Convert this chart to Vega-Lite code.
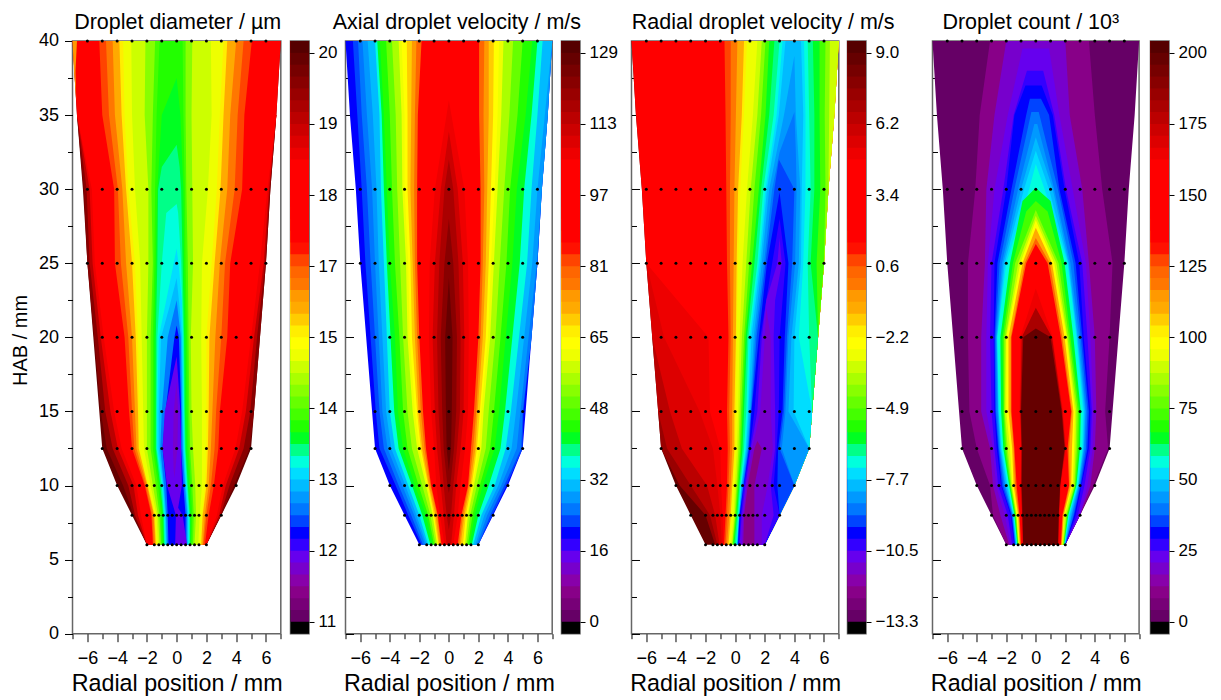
{"$schema":"https://vega.github.io/schema/vega-lite/v6.json","bounds":"flush","spacing":0,"padding":{"left":9.5,"top":11,"right":0,"bottom":0},"background":"white",
"resolve":{"scale":{"color":"shared"}},
"config":{"font":"Liberation Sans","view":{"stroke":"#666666","strokeWidth":1.5},"axis":{"grid":false,"domain":false,"tickColor":"#000000","labelColor":"#000000","titleColor":"#000000","labelFontSize":18,"titleFontSize":23.3,"titleFontWeight":"normal","labelFont":"Liberation Sans","titleFont":"Liberation Sans"},"title":{"fontSize":21.5,"fontWeight":"normal","font":"Liberation Sans","color":"#000000"}},
"datasets":{
"levels":[{"l":0,"lo":0},{"l":1,"lo":1},{"l":2,"lo":2},{"l":3,"lo":3},{"l":4,"lo":4},{"l":5,"lo":5},{"l":6,"lo":6},{"l":7,"lo":7},{"l":8,"lo":8},{"l":9,"lo":9},{"l":10,"lo":10},{"l":11,"lo":11},{"l":12,"lo":12},{"l":13,"lo":13},{"l":14,"lo":14},{"l":15,"lo":15},{"l":16,"lo":16},{"l":17,"lo":17},{"l":18,"lo":18},{"l":19,"lo":19},{"l":20,"lo":20},{"l":21,"lo":21},{"l":22,"lo":22},{"l":23,"lo":23},{"l":24,"lo":24},{"l":25,"lo":25},{"l":26,"lo":26},{"l":27,"lo":27},{"l":28,"lo":28},{"l":29,"lo":29},{"l":30,"lo":30},{"l":31,"lo":31},{"l":32,"lo":32},{"l":33,"lo":33},{"l":34,"lo":34},{"l":35,"lo":35},{"l":36,"lo":36},{"l":37,"lo":37},{"l":38,"lo":38},{"l":39,"lo":39},{"l":40,"lo":40},{"l":41,"lo":41},{"l":42,"lo":42},{"l":43,"lo":43},{"l":44,"lo":44},{"l":45,"lo":45},{"l":46,"lo":46},{"l":47,"lo":47},{"l":48,"lo":48},{"l":49,"lo":49}],
"dots":[{"a":-2,"y":6},{"a":-1.5,"y":6},{"a":-1.2,"y":6},{"a":-0.9,"y":6},{"a":-0.6,"y":6},{"a":-0.3,"y":6},{"a":0,"y":6},{"a":0.3,"y":6},{"a":0.6,"y":6},{"a":0.9,"y":6},{"a":1.2,"y":6},{"a":1.5,"y":6},{"a":2,"y":6},
{"a":-3,"y":8},{"a":-2,"y":8},{"a":-1.5,"y":8},{"a":-1.2,"y":8},{"a":-0.9,"y":8},{"a":-0.6,"y":8},{"a":-0.3,"y":8},{"a":0,"y":8},{"a":0.3,"y":8},{"a":0.6,"y":8},{"a":0.9,"y":8},{"a":1.2,"y":8},{"a":1.5,"y":8},{"a":2,"y":8},{"a":3,"y":8},
{"a":-4,"y":10},{"a":-3,"y":10},{"a":-2.5,"y":10},{"a":-2,"y":10},{"a":-1.5,"y":10},{"a":-1,"y":10},{"a":-0.5,"y":10},{"a":0,"y":10},{"a":0.5,"y":10},{"a":1,"y":10},{"a":1.5,"y":10},{"a":2,"y":10},{"a":2.5,"y":10},{"a":3,"y":10},{"a":4,"y":10},
{"a":-5,"y":12.5},{"a":-4,"y":12.5},{"a":-3,"y":12.5},{"a":-2,"y":12.5},{"a":-1,"y":12.5},{"a":0,"y":12.5},{"a":1,"y":12.5},{"a":2,"y":12.5},{"a":3,"y":12.5},{"a":4,"y":12.5},{"a":5,"y":12.5},
{"a":-5,"y":15},{"a":-4,"y":15},{"a":-3,"y":15},{"a":-2,"y":15},{"a":-1,"y":15},{"a":0,"y":15},{"a":1,"y":15},{"a":2,"y":15},{"a":3,"y":15},{"a":4,"y":15},{"a":5,"y":15},
{"a":-5,"y":20},{"a":-4,"y":20},{"a":-3,"y":20},{"a":-2,"y":20},{"a":-1,"y":20},{"a":0,"y":20},{"a":1,"y":20},{"a":2,"y":20},{"a":3,"y":20},{"a":4,"y":20},{"a":5,"y":20},
{"a":-6,"y":25},{"a":-5,"y":25},{"a":-4,"y":25},{"a":-3,"y":25},{"a":-2,"y":25},{"a":-1,"y":25},{"a":0,"y":25},{"a":1,"y":25},{"a":2,"y":25},{"a":3,"y":25},{"a":4,"y":25},{"a":5,"y":25},{"a":6,"y":25},
{"a":-6,"y":30},{"a":-5,"y":30},{"a":-4,"y":30},{"a":-3,"y":30},{"a":-2,"y":30},{"a":-1,"y":30},{"a":0,"y":30},{"a":1,"y":30},{"a":2,"y":30},{"a":3,"y":30},{"a":4,"y":30},{"a":5,"y":30},{"a":6,"y":30},
{"a":-6,"y":40},{"a":-5,"y":40},{"a":-4,"y":40},{"a":-3,"y":40},{"a":-2,"y":40},{"a":-1,"y":40},{"a":0,"y":40},{"a":1,"y":40},{"a":2,"y":40},{"a":3,"y":40},{"a":4,"y":40},{"a":5,"y":40},{"a":6,"y":40}],
"p1":[
{"l":48,"y":40,"a":-7,"b":7},{"l":48,"y":35,"a":-6.7,"b":6.7},{"l":48,"y":30,"a":-6.3,"b":6.3},{"l":48,"y":25,"a":-6,"b":6},{"l":48,"y":20,"a":-5.6,"b":5.6},{"l":48,"y":15,"a":-5.2,"b":5.2},{"l":48,"y":12.5,"a":-5,"b":5},{"l":48,"y":10,"a":-4,"b":4},{"l":48,"y":8,"a":-3,"b":3},{"l":48,"y":6,"a":-2,"b":2},
{"l":46,"y":35,"a":-6.7,"b":6.7},{"l":46,"y":30,"a":-6.25,"b":6.3},{"l":46,"y":25,"a":-6,"b":6},{"l":46,"y":20,"a":-5.55,"b":5.6},{"l":46,"y":15,"a":-5.1,"b":5.2},{"l":46,"y":12.5,"a":-4.7,"b":4.9},{"l":46,"y":10,"a":-3.6,"b":3.85},{"l":46,"y":8,"a":-2.9,"b":3},{"l":46,"y":6,"a":-2,"b":2},
{"l":43,"y":35,"a":-6.7,"b":6.7},{"l":43,"y":30,"a":-6.05,"b":6.25},{"l":43,"y":25,"a":-5.85,"b":5.95},{"l":43,"y":20,"a":-5.3,"b":5.4},{"l":43,"y":15,"a":-4.8,"b":4.95},{"l":43,"y":12.5,"a":-4.3,"b":4.5},{"l":43,"y":10,"a":-3.25,"b":3.55},{"l":43,"y":8,"a":-2.8,"b":2.95},{"l":43,"y":6,"a":-2,"b":2},
{"l":40,"y":35,"a":-6.7,"b":6.7},{"l":40,"y":30,"a":-5.85,"b":6.2},{"l":40,"y":25,"a":-5.65,"b":5.85},{"l":40,"y":20,"a":-5.1,"b":5.2},{"l":40,"y":15,"a":-4.45,"b":4.65},{"l":40,"y":12.5,"a":-3.95,"b":4.2},{"l":40,"y":10,"a":-2.9,"b":3.3},{"l":40,"y":8,"a":-2.6,"b":2.85},{"l":40,"y":6,"a":-2,"b":2},
{"l":36,"y":40,"a":-7,"b":7},{"l":36,"y":35,"a":-6.7,"b":6.7},{"l":36,"y":30,"a":-5.7,"b":6.1},{"l":36,"y":25,"a":-5.5,"b":5.6},{"l":36,"y":20,"a":-4.9,"b":5},{"l":36,"y":15,"a":-4.2,"b":4.4},{"l":36,"y":12.5,"a":-3.7,"b":3.95},{"l":36,"y":10,"a":-2.7,"b":3.1},{"l":36,"y":8,"a":-2.4,"b":2.7},{"l":36,"y":6,"a":-2,"b":2},
{"l":31,"y":40,"a":-5.2,"b":5.05},{"l":31,"y":35,"a":-5,"b":4.55},{"l":31,"y":30,"a":-4.2,"b":4.4},{"l":31,"y":25,"a":-4.15,"b":3.6},{"l":31,"y":20,"a":-3.5,"b":3.4},{"l":31,"y":15,"a":-3.2,"b":2.9},{"l":31,"y":12.5,"a":-3,"b":2.8},{"l":31,"y":10,"a":-2.15,"b":2.5},{"l":31,"y":8,"a":-1.7,"b":2.15},{"l":31,"y":6,"a":-1.6,"b":1.9},
{"l":29,"y":40,"a":-4.75,"b":4.5},{"l":29,"y":35,"a":-4.55,"b":4.1},{"l":29,"y":30,"a":-3.95,"b":3.9},{"l":29,"y":25,"a":-3.75,"b":3.25},{"l":29,"y":20,"a":-3.25,"b":3},{"l":29,"y":15,"a":-3,"b":2.65},{"l":29,"y":12.5,"a":-2.85,"b":2.55},{"l":29,"y":10,"a":-2.1,"b":2.3},{"l":29,"y":8,"a":-1.65,"b":2},{"l":29,"y":6,"a":-1.55,"b":1.8},
{"l":27,"y":40,"a":-4.3,"b":4},{"l":27,"y":35,"a":-4.15,"b":3.6},{"l":27,"y":30,"a":-3.65,"b":3.4},{"l":27,"y":25,"a":-3.4,"b":2.9},{"l":27,"y":20,"a":-3,"b":2.6},{"l":27,"y":15,"a":-2.8,"b":2.4},{"l":27,"y":12.5,"a":-2.7,"b":2.3},{"l":27,"y":10,"a":-2,"b":2.15},{"l":27,"y":8,"a":-1.55,"b":1.9},{"l":27,"y":6,"a":-1.45,"b":1.75},
{"l":25,"y":40,"a":-3.85,"b":3.4},{"l":25,"y":35,"a":-3.7,"b":3.15},{"l":25,"y":30,"a":-3.4,"b":2.95},{"l":25,"y":25,"a":-3,"b":2.55},{"l":25,"y":20,"a":-2.75,"b":2.2},{"l":25,"y":15,"a":-2.6,"b":2.15},{"l":25,"y":12.5,"a":-2.55,"b":2.1},{"l":25,"y":10,"a":-1.95,"b":2},{"l":25,"y":8,"a":-1.5,"b":1.75},{"l":25,"y":6,"a":-1.4,"b":1.65},
{"l":23,"y":40,"a":-3.6,"b":3.15},{"l":23,"y":35,"a":-3.5,"b":2.9},{"l":23,"y":30,"a":-3.25,"b":2.7},{"l":23,"y":25,"a":-2.8,"b":2.35},{"l":23,"y":20,"a":-2.6,"b":2},{"l":23,"y":15,"a":-2.5,"b":2},{"l":23,"y":12.5,"a":-2.5,"b":2},{"l":23,"y":10,"a":-1.9,"b":1.9},{"l":23,"y":8,"a":-1.45,"b":1.7},{"l":23,"y":6,"a":-1.35,"b":1.6},
{"l":22,"y":40,"a":-3.05,"b":2.3},{"l":22,"y":35,"a":-3,"b":2.35},{"l":22,"y":30,"a":-2.8,"b":2.1},{"l":22,"y":25,"a":-2.45,"b":1.7},{"l":22,"y":20,"a":-2.35,"b":1.65},{"l":22,"y":15,"a":-2.25,"b":1.7},{"l":22,"y":12.5,"a":-2.2,"b":1.7},{"l":22,"y":10,"a":-1.75,"b":1.7},{"l":22,"y":8,"a":-1.35,"b":1.55},{"l":22,"y":6,"a":-1.25,"b":1.45},
{"l":20,"y":40,"a":-2.1,"b":1.05},{"l":20,"y":35,"a":-2.15,"b":1},{"l":20,"y":30,"a":-1.9,"b":1.05},{"l":20,"y":25,"a":-1.9,"b":1.1},{"l":20,"y":20,"a":-2,"b":0.95},{"l":20,"y":15,"a":-2,"b":1},{"l":20,"y":12.5,"a":-2,"b":1.1},{"l":20,"y":10,"a":-1.6,"b":1.25},{"l":20,"y":8,"a":-1.25,"b":1.3},{"l":20,"y":6,"a":-1.15,"b":1.2},
{"l":18,"y":40,"a":-1.45,"b":0.6},{"l":18,"y":35,"a":-1.6,"b":0.6},{"l":18,"y":30,"a":-1.7,"b":0.65},{"l":18,"y":25,"a":-1.6,"b":0.75},{"l":18,"y":20,"a":-1.75,"b":0.8},{"l":18,"y":15,"a":-1.75,"b":0.85},{"l":18,"y":12.5,"a":-1.75,"b":0.9},{"l":18,"y":10,"a":-1.4,"b":1.05},{"l":18,"y":8,"a":-1.15,"b":1.15},{"l":18,"y":6,"a":-1.05,"b":1.1},
{"l":17,"y":40,"a":-1.15,"b":0.4},{"l":17,"y":35,"a":-1.35,"b":0.45},{"l":17,"y":30,"a":-1.45,"b":0.55},{"l":17,"y":25,"a":-1.5,"b":0.6},{"l":17,"y":20,"a":-1.6,"b":0.7},{"l":17,"y":15,"a":-1.6,"b":0.75},{"l":17,"y":12.5,"a":-1.6,"b":0.8},{"l":17,"y":10,"a":-1.25,"b":0.95},{"l":17,"y":8,"a":-1.05,"b":1.05},{"l":17,"y":6,"a":-1,"b":1},
{"l":16,"y":37.5,"a":0,"b":0},{"l":16,"y":35,"a":-1,"b":0.25},{"l":16,"y":30,"a":-1.3,"b":0.45},{"l":16,"y":25,"a":-1.4,"b":0.5},{"l":16,"y":20,"a":-1.5,"b":0.6},{"l":16,"y":15,"a":-1.5,"b":0.65},{"l":16,"y":12.5,"a":-1.5,"b":0.7},{"l":16,"y":10,"a":-1.15,"b":0.85},{"l":16,"y":8,"a":-0.95,"b":0.95},{"l":16,"y":6,"a":-0.9,"b":0.95},
{"l":15,"y":33,"a":0,"b":0},{"l":15,"y":31.5,"a":-1,"b":0.2},{"l":15,"y":30,"a":-1.25,"b":0.3},{"l":15,"y":25,"a":-1.3,"b":0.4},{"l":15,"y":20,"a":-1.4,"b":0.5},{"l":15,"y":15,"a":-1.4,"b":0.55},{"l":15,"y":12.5,"a":-1.4,"b":0.6},{"l":15,"y":10,"a":-1.1,"b":0.75},{"l":15,"y":8,"a":-0.9,"b":0.9},{"l":15,"y":6,"a":-0.85,"b":0.9},
{"l":14,"y":29,"a":0,"b":0},{"l":14,"y":28.4,"a":-0.7,"b":0.1},{"l":14,"y":25,"a":-1,"b":0.3},{"l":14,"y":20,"a":-1.3,"b":0.45},{"l":14,"y":15,"a":-1.35,"b":0.5},{"l":14,"y":12.5,"a":-1.35,"b":0.55},{"l":14,"y":10,"a":-1,"b":0.7},{"l":14,"y":8,"a":-0.85,"b":0.85},{"l":14,"y":6,"a":-0.8,"b":0.85},
{"l":13,"y":26,"a":0,"b":0},{"l":13,"y":25,"a":-0.2,"b":0.12},{"l":13,"y":22.5,"a":-0.7,"b":0.35},{"l":13,"y":20,"a":-1.2,"b":0.4},{"l":13,"y":15,"a":-1.3,"b":0.45},{"l":13,"y":12.5,"a":-1.3,"b":0.5},{"l":13,"y":10,"a":-0.95,"b":0.65},{"l":13,"y":8,"a":-0.8,"b":0.8},{"l":13,"y":6,"a":-0.75,"b":0.8},
{"l":12,"y":24,"a":0,"b":0},{"l":12,"y":22,"a":-0.5,"b":0.2},{"l":12,"y":20,"a":-1.05,"b":0.35},{"l":12,"y":15,"a":-1.2,"b":0.4},{"l":12,"y":12.5,"a":-1.2,"b":0.45},{"l":12,"y":10,"a":-0.9,"b":0.6},{"l":12,"y":8,"a":-0.75,"b":0.75},{"l":12,"y":6,"a":-0.7,"b":0.75},
{"l":10,"y":22.5,"a":0,"b":0},{"l":10,"y":20,"a":-0.6,"b":0.28},{"l":10,"y":15,"a":-1,"b":0.35},{"l":10,"y":12.5,"a":-1.1,"b":0.4},{"l":10,"y":10,"a":-0.85,"b":0.55},{"l":10,"y":8,"a":-0.7,"b":0.7},{"l":10,"y":6,"a":-0.65,"b":0.7},
{"l":8,"y":20.8,"a":0,"b":0},{"l":8,"y":20,"a":-0.15,"b":0.15},{"l":8,"y":15,"a":-0.75,"b":0.3},{"l":8,"y":12.5,"a":-0.95,"b":0.3},{"l":8,"y":10,"a":-0.7,"b":0.45},{"l":8,"y":8,"a":-0.6,"b":0.6},{"l":8,"y":6,"a":-0.55,"b":0.6},
{"l":6,"y":18.7,"a":0,"b":0},{"l":6,"y":15,"a":-0.8,"b":0.25},{"l":6,"y":12.5,"a":-0.95,"b":0.3},{"l":6,"y":10,"a":-0.65,"b":0.35},{"l":6,"y":8.5,"a":-0.2,"b":0.1},{"l":6,"y":8,"a":-0.05,"b":0.4},{"l":6,"y":6,"a":-0.1,"b":0.7},
{"l":5,"y":17,"a":0,"b":0},{"l":5,"y":15,"a":-0.2,"b":0.1},{"l":5,"y":12.5,"a":-0.25,"b":0.05},{"l":5,"y":11,"a":-0.2,"b":-0.1},{"l":5,"y":10.5,"a":-0.15,"b":-0.15},
{"l":28,"y":40,"a":-7,"b":-6.7},{"l":28,"y":38,"a":-6.9,"b":-6.8},{"l":28,"y":36,"a":-6.75,"b":-6.75}],
"p2":[
{"l":8,"y":40,"a":-7,"b":7},{"l":8,"y":35,"a":-6.7,"b":6.7},{"l":8,"y":30,"a":-6.3,"b":6.3},{"l":8,"y":25,"a":-6,"b":6},{"l":8,"y":20,"a":-5.6,"b":5.6},{"l":8,"y":15,"a":-5.2,"b":5.2},{"l":8,"y":12.5,"a":-5,"b":5},{"l":8,"y":10,"a":-4,"b":4},{"l":8,"y":8,"a":-3,"b":3},{"l":8,"y":6,"a":-2,"b":2},
{"l":9,"y":40,"a":-6.5,"b":7},{"l":9,"y":35,"a":-6.2,"b":6.7},{"l":9,"y":30,"a":-5.9,"b":6.3},{"l":9,"y":25,"a":-5.65,"b":6},{"l":9,"y":20,"a":-5.3,"b":5.6},{"l":9,"y":15,"a":-4.95,"b":5.05},{"l":9,"y":12.5,"a":-4.7,"b":5},{"l":9,"y":10,"a":-3.6,"b":3.9},{"l":9,"y":8,"a":-2.75,"b":2.95},{"l":9,"y":6,"a":-1.85,"b":2},
{"l":10,"y":40,"a":-6.15,"b":7},{"l":10,"y":35,"a":-5.9,"b":6.7},{"l":10,"y":30,"a":-5.55,"b":6.3},{"l":10,"y":25,"a":-5.3,"b":6},{"l":10,"y":20,"a":-5,"b":5.6},{"l":10,"y":15,"a":-4.7,"b":5},{"l":10,"y":12.5,"a":-4.4,"b":4.9},{"l":10,"y":10,"a":-3.4,"b":3.75},{"l":10,"y":8,"a":-2.55,"b":2.8},{"l":10,"y":6,"a":-1.75,"b":2},
{"l":11,"y":40,"a":-5.85,"b":7},{"l":11,"y":35,"a":-5.55,"b":6.7},{"l":11,"y":30,"a":-5.2,"b":6.3},{"l":11,"y":25,"a":-5,"b":5.95},{"l":11,"y":20,"a":-4.75,"b":5.4},{"l":11,"y":15,"a":-4.5,"b":4.85},{"l":11,"y":12.5,"a":-4.15,"b":4.6},{"l":11,"y":10,"a":-3.15,"b":3.55},{"l":11,"y":8,"a":-2.35,"b":2.6},{"l":11,"y":6,"a":-1.6,"b":1.9},
{"l":12,"y":40,"a":-5.5,"b":7},{"l":12,"y":35,"a":-5.15,"b":6.5},{"l":12,"y":30,"a":-4.9,"b":6},{"l":12,"y":25,"a":-4.75,"b":5.65},{"l":12,"y":20,"a":-4.5,"b":5.1},{"l":12,"y":15,"a":-4.25,"b":4.55},{"l":12,"y":12.5,"a":-3.9,"b":4.25},{"l":12,"y":10,"a":-2.95,"b":3.35},{"l":12,"y":8,"a":-2.2,"b":2.4},{"l":12,"y":6,"a":-1.5,"b":1.8},
{"l":14,"y":40,"a":-5,"b":6.35},{"l":14,"y":35,"a":-4.7,"b":6},{"l":14,"y":30,"a":-4.6,"b":5.6},{"l":14,"y":25,"a":-4.4,"b":5.3},{"l":14,"y":20,"a":-4.2,"b":4.75},{"l":14,"y":15,"a":-4,"b":4.2},{"l":14,"y":12.5,"a":-3.65,"b":3.85},{"l":14,"y":10,"a":-2.75,"b":3.1},{"l":14,"y":8,"a":-2,"b":2.2},{"l":14,"y":6,"a":-1.4,"b":1.65},
{"l":16,"y":40,"a":-4.85,"b":6},{"l":16,"y":35,"a":-4.55,"b":5.6},{"l":16,"y":30,"a":-4.4,"b":5.1},{"l":16,"y":25,"a":-4.2,"b":4.8},{"l":16,"y":20,"a":-3.95,"b":4.3},{"l":16,"y":15,"a":-3.7,"b":3.8},{"l":16,"y":12.5,"a":-3.4,"b":3.5},{"l":16,"y":10,"a":-2.5,"b":2.7},{"l":16,"y":8,"a":-1.8,"b":2},{"l":16,"y":6,"a":-1.25,"b":1.55},
{"l":17,"y":40,"a":-4.67,"b":5.65},{"l":17,"y":35,"a":-4.4,"b":5.2},{"l":17,"y":30,"a":-4.2,"b":4.6},{"l":17,"y":25,"a":-4,"b":4.3},{"l":17,"y":20,"a":-3.65,"b":3.85},{"l":17,"y":15,"a":-3.45,"b":3.4},{"l":17,"y":12.5,"a":-3.1,"b":3.1},{"l":17,"y":10,"a":-2.3,"b":2.3},{"l":17,"y":8,"a":-1.55,"b":1.75},{"l":17,"y":6,"a":-1.1,"b":1.4},
{"l":19,"y":40,"a":-4.25,"b":5},{"l":19,"y":35,"a":-4,"b":4.65},{"l":19,"y":30,"a":-3.85,"b":4.15},{"l":19,"y":25,"a":-3.65,"b":3.9},{"l":19,"y":20,"a":-3.35,"b":3.5},{"l":19,"y":15,"a":-3.1,"b":3.05},{"l":19,"y":12.5,"a":-2.8,"b":2.8},{"l":19,"y":10,"a":-2.05,"b":2.1},{"l":19,"y":8,"a":-1.4,"b":1.6},{"l":19,"y":6,"a":-1,"b":1.3},
{"l":21,"y":40,"a":-3.85,"b":4.35},{"l":21,"y":35,"a":-3.6,"b":4.1},{"l":21,"y":30,"a":-3.5,"b":3.75},{"l":21,"y":25,"a":-3.3,"b":3.45},{"l":21,"y":20,"a":-3.1,"b":3.15},{"l":21,"y":15,"a":-2.8,"b":2.7},{"l":21,"y":12.5,"a":-2.5,"b":2.5},{"l":21,"y":10,"a":-1.8,"b":1.9},{"l":21,"y":8,"a":-1.25,"b":1.45},{"l":21,"y":6,"a":-0.9,"b":1.2},
{"l":23,"y":40,"a":-3.4,"b":3.7},{"l":23,"y":35,"a":-3.2,"b":3.55},{"l":23,"y":30,"a":-3.15,"b":3.3},{"l":23,"y":25,"a":-2.9,"b":3.05},{"l":23,"y":20,"a":-2.8,"b":2.8},{"l":23,"y":15,"a":-2.45,"b":2.35},{"l":23,"y":12.5,"a":-2.15,"b":2.2},{"l":23,"y":10,"a":-1.55,"b":1.7},{"l":23,"y":8,"a":-1.1,"b":1.3},{"l":23,"y":6,"a":-0.8,"b":1.1},
{"l":24,"y":40,"a":-3.2,"b":3.4},{"l":24,"y":35,"a":-3,"b":3.3},{"l":24,"y":30,"a":-3,"b":3.1},{"l":24,"y":25,"a":-2.75,"b":2.85},{"l":24,"y":20,"a":-2.65,"b":2.65},{"l":24,"y":15,"a":-2.3,"b":2.2},{"l":24,"y":12.5,"a":-2,"b":2.05},{"l":24,"y":10,"a":-1.45,"b":1.6},{"l":24,"y":8,"a":-1.05,"b":1.25},{"l":24,"y":6,"a":-0.75,"b":1.05},
{"l":26,"y":40,"a":-2.85,"b":3.05},{"l":26,"y":35,"a":-2.8,"b":3},{"l":26,"y":30,"a":-2.8,"b":2.85},{"l":26,"y":25,"a":-2.6,"b":2.7},{"l":26,"y":20,"a":-2.5,"b":2.5},{"l":26,"y":15,"a":-2.15,"b":2.1},{"l":26,"y":12.5,"a":-1.9,"b":1.9},{"l":26,"y":10,"a":-1.4,"b":1.55},{"l":26,"y":8,"a":-1,"b":1.15},{"l":26,"y":6,"a":-0.7,"b":0.95},
{"l":28,"y":40,"a":-2.5,"b":2.7},{"l":28,"y":35,"a":-2.55,"b":2.7},{"l":28,"y":30,"a":-2.6,"b":2.6},{"l":28,"y":25,"a":-2.45,"b":2.5},{"l":28,"y":20,"a":-2.3,"b":2.3},{"l":28,"y":15,"a":-2.05,"b":1.95},{"l":28,"y":12.5,"a":-1.8,"b":1.8},{"l":28,"y":10,"a":-1.35,"b":1.45},{"l":28,"y":8,"a":-0.9,"b":1.05},{"l":28,"y":6,"a":-0.65,"b":0.8},
{"l":30,"y":40,"a":-2.2,"b":2.4},{"l":30,"y":35,"a":-2.3,"b":2.35},{"l":30,"y":30,"a":-2.35,"b":2.4},{"l":30,"y":25,"a":-2.3,"b":2.3},{"l":30,"y":20,"a":-2.15,"b":2.15},{"l":30,"y":15,"a":-1.9,"b":1.85},{"l":30,"y":12.5,"a":-1.65,"b":1.65},{"l":30,"y":10,"a":-1.25,"b":1.35},{"l":30,"y":8,"a":-0.8,"b":0.95},{"l":30,"y":6,"a":-0.55,"b":0.7},
{"l":36,"y":40,"a":-1.85,"b":2.05},{"l":36,"y":35,"a":-2.1,"b":2.05},{"l":36,"y":30,"a":-2.15,"b":2.15},{"l":36,"y":25,"a":-2.15,"b":2.15},{"l":36,"y":20,"a":-2,"b":2},{"l":36,"y":15,"a":-1.75,"b":1.7},{"l":36,"y":12.5,"a":-1.55,"b":1.5},{"l":36,"y":10,"a":-1.2,"b":1.3},{"l":36,"y":8,"a":-0.75,"b":0.85},{"l":36,"y":6,"a":-0.5,"b":0.6},
{"l":40,"y":36,"a":0,"b":0},{"l":40,"y":30,"a":-0.95,"b":1.05},{"l":40,"y":25,"a":-1.3,"b":1.3},{"l":40,"y":20,"a":-1.35,"b":1.35},{"l":40,"y":15,"a":-1.2,"b":1.3},{"l":40,"y":12.5,"a":-1,"b":1.1},{"l":40,"y":10,"a":-0.85,"b":0.8},{"l":40,"y":8,"a":-0.6,"b":0.6},{"l":40,"y":6,"a":-0.3,"b":0.3},
{"l":42,"y":33.9,"a":0,"b":0},{"l":42,"y":30,"a":-0.55,"b":0.6},{"l":42,"y":25,"a":-0.95,"b":0.95},{"l":42,"y":20,"a":-1.1,"b":1.05},{"l":42,"y":15,"a":-0.95,"b":1},{"l":42,"y":12.5,"a":-0.8,"b":0.8},{"l":42,"y":10,"a":-0.55,"b":0.5},{"l":42,"y":8,"a":-0.35,"b":0.35},{"l":42,"y":6,"a":-0.15,"b":0.15},
{"l":44,"y":32,"a":0,"b":0},{"l":44,"y":30,"a":-0.3,"b":0.3},{"l":44,"y":25,"a":-0.65,"b":0.65},{"l":44,"y":20,"a":-0.8,"b":0.8},{"l":44,"y":15,"a":-0.7,"b":0.75},{"l":44,"y":12.5,"a":-0.55,"b":0.55},{"l":44,"y":10,"a":-0.35,"b":0.3},{"l":44,"y":8,"a":-0.15,"b":0.15},{"l":44,"y":7,"a":0,"b":0},
{"l":46,"y":28,"a":0,"b":0},{"l":46,"y":25,"a":-0.3,"b":0.3},{"l":46,"y":20,"a":-0.55,"b":0.55},{"l":46,"y":15,"a":-0.45,"b":0.5},{"l":46,"y":12.5,"a":-0.35,"b":0.35},{"l":46,"y":10,"a":-0.1,"b":0.1},{"l":46,"y":9.5,"a":0,"b":0},
{"l":48,"y":24,"a":0,"b":0},{"l":48,"y":20,"a":-0.25,"b":0.25},{"l":48,"y":15,"a":-0.2,"b":0.2},{"l":48,"y":12.5,"a":-0.15,"b":0.15},{"l":48,"y":11,"a":0,"b":0}],
"p3":[
{"l":48,"y":40,"a":-7,"b":7},{"l":48,"y":35,"a":-6.7,"b":6.7},{"l":48,"y":30,"a":-6.3,"b":6.3},{"l":48,"y":25,"a":-6,"b":6},{"l":48,"y":20,"a":-5.6,"b":5.6},{"l":48,"y":15,"a":-5.2,"b":5.2},{"l":48,"y":12.5,"a":-5,"b":5},{"l":48,"y":10,"a":-4,"b":4},{"l":48,"y":8,"a":-3,"b":3},{"l":48,"y":6,"a":-2,"b":2},
{"l":45,"y":15,"a":-5.2,"b":5.2},{"l":45,"y":12.5,"a":-5,"b":5},{"l":45,"y":10,"a":-3.75,"b":4},{"l":45,"y":8,"a":-2,"b":3},{"l":45,"y":6,"a":-1.35,"b":2},
{"l":43,"y":20,"a":-5.6,"b":5.6},{"l":43,"y":15,"a":-5.2,"b":5.2},{"l":43,"y":12.5,"a":-4.6,"b":5},{"l":43,"y":10,"a":-3,"b":4},{"l":43,"y":8,"a":-1.7,"b":3},{"l":43,"y":6,"a":-1.2,"b":2},
{"l":41,"y":25,"a":-6,"b":6},{"l":41,"y":20,"a":-5.6,"b":5.6},{"l":41,"y":15,"a":-4.4,"b":5.2},{"l":41,"y":12.5,"a":-3.6,"b":5},{"l":41,"y":10,"a":-1.9,"b":4},{"l":41,"y":8,"a":-1.35,"b":3},{"l":41,"y":6,"a":-1.05,"b":2},
{"l":40,"y":25,"a":-6,"b":6},{"l":40,"y":20,"a":-4.8,"b":5.6},{"l":40,"y":15,"a":-2.4,"b":5.2},{"l":40,"y":12.5,"a":-1.5,"b":5},{"l":40,"y":10,"a":-1.2,"b":4},{"l":40,"y":8,"a":-1,"b":3},{"l":40,"y":6,"a":-0.9,"b":2},
{"l":39,"y":40,"a":-7,"b":7},{"l":39,"y":35,"a":-6.7,"b":6.7},{"l":39,"y":30,"a":-6.3,"b":6.3},{"l":39,"y":25,"a":-6,"b":6},{"l":39,"y":20,"a":-1.8,"b":5.6},{"l":39,"y":15,"a":-1.7,"b":5.2},{"l":39,"y":12.5,"a":-1,"b":5},{"l":39,"y":10,"a":-0.95,"b":4},{"l":39,"y":8,"a":-0.85,"b":3},{"l":39,"y":6,"a":-0.8,"b":2},
{"l":31,"y":40,"a":-0.72,"b":7},{"l":31,"y":35,"a":-0.65,"b":6.7},{"l":31,"y":30,"a":-0.6,"b":6.3},{"l":31,"y":25,"a":-0.55,"b":6},{"l":31,"y":20,"a":-0.45,"b":5.6},{"l":31,"y":15,"a":-0.55,"b":5.2},{"l":31,"y":12.5,"a":-0.5,"b":5},{"l":31,"y":10,"a":-0.55,"b":4},{"l":31,"y":8,"a":-0.65,"b":3},{"l":31,"y":6,"a":-0.75,"b":2},
{"l":29,"y":40,"a":-0.3,"b":7},{"l":29,"y":35,"a":-0.3,"b":6.7},{"l":29,"y":30,"a":-0.35,"b":6.3},{"l":29,"y":25,"a":-0.35,"b":6},{"l":29,"y":20,"a":-0.3,"b":5.6},{"l":29,"y":15,"a":-0.4,"b":5.2},{"l":29,"y":12.5,"a":-0.35,"b":5},{"l":29,"y":10,"a":-0.45,"b":4},{"l":29,"y":8,"a":-0.55,"b":3},{"l":29,"y":6,"a":-0.65,"b":2},
{"l":27,"y":40,"a":0.15,"b":7},{"l":27,"y":35,"a":0.05,"b":6.7},{"l":27,"y":30,"a":-0.05,"b":6.3},{"l":27,"y":25,"a":-0.1,"b":6},{"l":27,"y":20,"a":-0.15,"b":5.6},{"l":27,"y":15,"a":-0.2,"b":5.2},{"l":27,"y":12.5,"a":-0.2,"b":5},{"l":27,"y":10,"a":-0.3,"b":4},{"l":27,"y":8,"a":-0.4,"b":3},{"l":27,"y":6,"a":-0.55,"b":2},
{"l":25,"y":40,"a":0.6,"b":7},{"l":25,"y":35,"a":0.45,"b":6.7},{"l":25,"y":30,"a":0.2,"b":6.3},{"l":25,"y":25,"a":0.1,"b":6},{"l":25,"y":20,"a":0.05,"b":5.6},{"l":25,"y":15,"a":-0.05,"b":5.2},{"l":25,"y":12.5,"a":-0.05,"b":5},{"l":25,"y":10,"a":-0.2,"b":4},{"l":25,"y":8,"a":-0.3,"b":3},{"l":25,"y":6,"a":-0.45,"b":2},
{"l":23,"y":40,"a":0.8,"b":7},{"l":23,"y":35,"a":0.6,"b":6.7},{"l":23,"y":30,"a":0.35,"b":6.3},{"l":23,"y":25,"a":0.2,"b":6},{"l":23,"y":20,"a":0.1,"b":5.6},{"l":23,"y":15,"a":0.05,"b":5.2},{"l":23,"y":12.5,"a":0,"b":5},{"l":23,"y":10,"a":-0.15,"b":4},{"l":23,"y":8,"a":-0.25,"b":3},{"l":23,"y":6,"a":-0.4,"b":2},
{"l":22,"y":40,"a":1.5,"b":7},{"l":22,"y":35,"a":1.2,"b":6.7},{"l":22,"y":30,"a":0.8,"b":6.3},{"l":22,"y":25,"a":0.5,"b":6},{"l":22,"y":20,"a":0.3,"b":5.6},{"l":22,"y":15,"a":0.2,"b":5.2},{"l":22,"y":12.5,"a":0.12,"b":5},{"l":22,"y":10,"a":-0.02,"b":4},{"l":22,"y":8,"a":-0.1,"b":3},{"l":22,"y":6,"a":-0.28,"b":2},
{"l":20,"y":40,"a":1.8,"b":6.4},{"l":20,"y":35,"a":1.5,"b":6.35},{"l":20,"y":30,"a":1.05,"b":6.3},{"l":20,"y":25,"a":0.75,"b":6},{"l":20,"y":20,"a":0.45,"b":5.6},{"l":20,"y":15,"a":0.3,"b":5.2},{"l":20,"y":12.5,"a":0.22,"b":5},{"l":20,"y":10,"a":0.08,"b":4},{"l":20,"y":8,"a":-0.03,"b":3},{"l":20,"y":6,"a":-0.2,"b":2},
{"l":18,"y":40,"a":2.05,"b":6.1},{"l":18,"y":35,"a":1.75,"b":6.05},{"l":18,"y":30,"a":1.3,"b":6.1},{"l":18,"y":25,"a":0.95,"b":6},{"l":18,"y":20,"a":0.6,"b":5.6},{"l":18,"y":15,"a":0.4,"b":5.2},{"l":18,"y":12.5,"a":0.32,"b":5},{"l":18,"y":10,"a":0.15,"b":4},{"l":18,"y":8,"a":0.02,"b":3},{"l":18,"y":6,"a":-0.17,"b":2},
{"l":16,"y":40,"a":2.3,"b":5.7},{"l":16,"y":35,"a":2.05,"b":5.7},{"l":16,"y":30,"a":1.6,"b":5.75},{"l":16,"y":25,"a":1.15,"b":5.5},{"l":16,"y":20,"a":0.7,"b":5.6},{"l":16,"y":15,"a":0.5,"b":5.2},{"l":16,"y":12.5,"a":0.4,"b":5},{"l":16,"y":10,"a":0.22,"b":4},{"l":16,"y":8,"a":0.08,"b":3},{"l":16,"y":6,"a":-0.12,"b":2},
{"l":15,"y":40,"a":2.65,"b":5.25},{"l":15,"y":35,"a":2.3,"b":5.35},{"l":15,"y":30,"a":1.75,"b":5.35},{"l":15,"y":25,"a":1.3,"b":5.1},{"l":15,"y":20,"a":0.8,"b":5.6},{"l":15,"y":15,"a":0.6,"b":5.2},{"l":15,"y":12.5,"a":0.5,"b":5},{"l":15,"y":10,"a":0.28,"b":4},{"l":15,"y":8,"a":0.13,"b":3},{"l":15,"y":6,"a":-0.05,"b":2},
{"l":14,"y":40,"a":3,"b":4.9},{"l":14,"y":35,"a":2.6,"b":5},{"l":14,"y":30,"a":1.9,"b":5.1},{"l":14,"y":25,"a":1.5,"b":4.9},{"l":14,"y":20,"a":0.9,"b":5},{"l":14,"y":15,"a":0.75,"b":5.2},{"l":14,"y":12.5,"a":0.6,"b":5},{"l":14,"y":10,"a":0.35,"b":4},{"l":14,"y":8,"a":0.2,"b":3},{"l":14,"y":6,"a":0.05,"b":2},
{"l":13,"y":40,"a":3.2,"b":4.65},{"l":13,"y":35,"a":2.8,"b":4.75},{"l":13,"y":30,"a":2.05,"b":4.75},{"l":13,"y":25,"a":1.6,"b":4.6},{"l":13,"y":20,"a":1,"b":4.3},{"l":13,"y":15,"a":0.85,"b":5.2},{"l":13,"y":12.5,"a":0.7,"b":5},{"l":13,"y":10,"a":0.4,"b":4},{"l":13,"y":8,"a":0.25,"b":3},{"l":13,"y":6,"a":0.1,"b":2},
{"l":12,"y":40,"a":3.4,"b":4.45},{"l":12,"y":35,"a":2.95,"b":4.6},{"l":12,"y":30,"a":2.15,"b":4.5},{"l":12,"y":25,"a":1.7,"b":4.45},{"l":12,"y":20,"a":1.1,"b":4},{"l":12,"y":15,"a":0.9,"b":3.95},{"l":12,"y":12.5,"a":0.75,"b":5},{"l":12,"y":10,"a":0.42,"b":4},{"l":12,"y":8,"a":0.27,"b":3},{"l":12,"y":6,"a":0.13,"b":2},
{"l":11,"y":39,"a":4,"b":4},{"l":11,"y":35,"a":3.3,"b":4.1},{"l":11,"y":30,"a":2.3,"b":4.4},{"l":11,"y":25,"a":1.8,"b":4.3},{"l":11,"y":20,"a":1.25,"b":3.8},{"l":11,"y":15,"a":1,"b":3.6},{"l":11,"y":12.5,"a":0.82,"b":5},{"l":11,"y":10,"a":0.45,"b":4},{"l":11,"y":8,"a":0.28,"b":3},{"l":11,"y":6,"a":0.15,"b":2},
{"l":10,"y":35.2,"a":4,"b":4},{"l":10,"y":32.5,"a":3,"b":4.1},{"l":10,"y":30,"a":2.5,"b":4.15},{"l":10,"y":25,"a":1.95,"b":4.05},{"l":10,"y":20,"a":1.35,"b":3.6},{"l":10,"y":15,"a":1.05,"b":3.4},{"l":10,"y":12.5,"a":0.87,"b":3.15},{"l":10,"y":10,"a":0.5,"b":4},{"l":10,"y":8,"a":0.28,"b":3},{"l":10,"y":6,"a":0.17,"b":2},
{"l":9,"y":32,"a":2.95,"b":2.95},{"l":9,"y":30,"a":2.65,"b":4},{"l":9,"y":25,"a":2.05,"b":3.85},{"l":9,"y":20,"a":1.45,"b":3.5},{"l":9,"y":15,"a":1.08,"b":3.3},{"l":9,"y":12.5,"a":0.9,"b":3},{"l":9,"y":10,"a":0.55,"b":4},{"l":9,"y":8,"a":0.3,"b":3},{"l":9,"y":6,"a":0.18,"b":2},
{"l":8,"y":29.8,"a":3,"b":3},{"l":8,"y":25,"a":2.15,"b":3.6},{"l":8,"y":20,"a":1.6,"b":3.35},{"l":8,"y":15,"a":1.1,"b":3.2},{"l":8,"y":12.5,"a":0.95,"b":2.9},{"l":8,"y":10,"a":0.57,"b":2.85},{"l":8,"y":8,"a":0.3,"b":3},{"l":8,"y":6,"a":0.2,"b":2},
{"l":7,"y":28,"a":3,"b":3},{"l":7,"y":25,"a":2.5,"b":3.4},{"l":7,"y":20,"a":1.7,"b":3},{"l":7,"y":15,"a":1.3,"b":2.95},{"l":7,"y":12.5,"a":1,"b":2.8},{"l":7,"y":10,"a":0.6,"b":2.6},{"l":7,"y":8,"a":0.38,"b":3},{"l":7,"y":6,"a":0.25,"b":2},
{"l":6,"y":26.7,"a":3,"b":3},{"l":6,"y":25,"a":2.85,"b":3.15},{"l":6,"y":22.5,"a":2.1,"b":2.7},{"l":6,"y":20,"a":1.8,"b":2.6},{"l":6,"y":15,"a":1.5,"b":2.7},{"l":6,"y":12.5,"a":1.05,"b":2.7},{"l":6,"y":10,"a":0.7,"b":2.4},{"l":6,"y":8,"a":0.45,"b":2.6},{"l":6,"y":6,"a":0.3,"b":2},
{"l":5,"y":22,"a":2.1,"b":2.1},{"l":5,"y":20,"a":2,"b":2.4},{"l":5,"y":15,"a":1.7,"b":2.4},{"l":5,"y":12.5,"a":1.15,"b":2.55},{"l":5,"y":10,"a":0.75,"b":2.2},{"l":5,"y":8,"a":0.55,"b":1.8},{"l":5,"y":6,"a":0.45,"b":1.8},
{"l":3,"y":13,"a":1.5,"b":1.5},{"l":3,"y":12.5,"a":1.3,"b":1.8},{"l":3,"y":10,"a":0.85,"b":1.3},{"l":3,"y":8,"a":0.6,"b":1.3},{"l":3,"y":6,"a":0.55,"b":1.3}],
"p4":[
{"l":1,"y":40,"a":-7,"b":7},{"l":1,"y":35,"a":-6.7,"b":6.7},{"l":1,"y":30,"a":-6.3,"b":6.3},{"l":1,"y":25,"a":-6,"b":6},{"l":1,"y":20,"a":-5.6,"b":5.6},{"l":1,"y":15,"a":-5.2,"b":5.2},{"l":1,"y":12.5,"a":-5,"b":5},{"l":1,"y":10,"a":-4,"b":4},{"l":1,"y":8,"a":-3,"b":3},{"l":1,"y":6,"a":-2,"b":2},
{"l":3,"y":40,"a":-3.1,"b":3.6},{"l":3,"y":35,"a":-3.8,"b":4},{"l":3,"y":30,"a":-4.1,"b":4.5},{"l":3,"y":25,"a":-4.6,"b":5.2},{"l":3,"y":20,"a":-4.6,"b":5},{"l":3,"y":15,"a":-4.5,"b":4.7},{"l":3,"y":12.5,"a":-4,"b":4.9},{"l":3,"y":10,"a":-3.1,"b":3.9},{"l":3,"y":8,"a":-2.9,"b":3},{"l":3,"y":6,"a":-2,"b":2},
{"l":5,"y":40,"a":-2,"b":2},{"l":5,"y":35,"a":-2.8,"b":2.3},{"l":5,"y":30,"a":-3.35,"b":3.15},{"l":5,"y":25,"a":-3.45,"b":3.6},{"l":5,"y":20,"a":-3.7,"b":4},{"l":5,"y":15,"a":-3.7,"b":4.1},{"l":5,"y":12.5,"a":-3.1,"b":4},{"l":5,"y":10,"a":-2.9,"b":3.7},{"l":5,"y":8,"a":-2.4,"b":3},{"l":5,"y":6,"a":-1.8,"b":2},
{"l":6,"y":39.5,"a":-0.9,"b":0.9},{"l":6,"y":35,"a":-1.9,"b":1.6},{"l":6,"y":30,"a":-2.8,"b":2.5},{"l":6,"y":25,"a":-3.25,"b":3.4},{"l":6,"y":20,"a":-3.35,"b":3.7},{"l":6,"y":15,"a":-3.35,"b":3.9},{"l":6,"y":12.5,"a":-2.9,"b":3.85},{"l":6,"y":10,"a":-2.7,"b":3.5},{"l":6,"y":8,"a":-2.1,"b":3},{"l":6,"y":6,"a":-1.7,"b":2},
{"l":7,"y":38,"a":-0.6,"b":0.5},{"l":7,"y":35,"a":-1.5,"b":1.25},{"l":7,"y":30,"a":-2.2,"b":2.05},{"l":7,"y":25,"a":-3,"b":3.15},{"l":7,"y":20,"a":-3.1,"b":3.5},{"l":7,"y":15,"a":-3,"b":3.8},{"l":7,"y":12.5,"a":-2.8,"b":3.7},{"l":7,"y":10,"a":-2.55,"b":3.3},{"l":7,"y":8,"a":-1.9,"b":2.85},{"l":7,"y":6,"a":-1.6,"b":2},
{"l":8,"y":37,"a":-0.7,"b":0.4},{"l":8,"y":35,"a":-1.45,"b":1.15},{"l":8,"y":30,"a":-2,"b":1.95},{"l":8,"y":25,"a":-2.8,"b":2.95},{"l":8,"y":20,"a":-2.85,"b":3.25},{"l":8,"y":15,"a":-2.8,"b":3.7},{"l":8,"y":12.5,"a":-2.65,"b":3.6},{"l":8,"y":10,"a":-2.35,"b":3.1},{"l":8,"y":8,"a":-1.7,"b":2.7},{"l":8,"y":6,"a":-1.45,"b":2},
{"l":9,"y":36.1,"a":-0.4,"b":0.35},{"l":9,"y":35,"a":-0.65,"b":0.9},{"l":9,"y":30,"a":-1.65,"b":1.6},{"l":9,"y":25,"a":-2.6,"b":2.7},{"l":9,"y":20,"a":-2.8,"b":3.15},{"l":9,"y":15,"a":-2.75,"b":3.6},{"l":9,"y":12.5,"a":-2.55,"b":3.5},{"l":9,"y":10,"a":-2.3,"b":3.05},{"l":9,"y":8,"a":-1.65,"b":2.6},{"l":9,"y":6,"a":-1.42,"b":2},
{"l":10,"y":35.2,"a":-0.3,"b":0.2},{"l":10,"y":30,"a":-1.45,"b":1.5},{"l":10,"y":25,"a":-2.45,"b":2.55},{"l":10,"y":20,"a":-2.75,"b":3.05},{"l":10,"y":15,"a":-2.7,"b":3.5},{"l":10,"y":12.5,"a":-2.5,"b":3.4},{"l":10,"y":10,"a":-2.2,"b":3},{"l":10,"y":8,"a":-1.6,"b":2.55},{"l":10,"y":6,"a":-1.4,"b":2},
{"l":11,"y":34.4,"a":-0.1,"b":0.1},{"l":11,"y":30,"a":-1.2,"b":1.25},{"l":11,"y":25,"a":-2.3,"b":2.35},{"l":11,"y":20,"a":-2.7,"b":2.95},{"l":11,"y":15,"a":-2.6,"b":3.4},{"l":11,"y":12.5,"a":-2.45,"b":3.3},{"l":11,"y":10,"a":-2.1,"b":2.95},{"l":11,"y":8,"a":-1.57,"b":2.45},{"l":11,"y":6,"a":-1.37,"b":1.99},
{"l":12,"y":33.5,"a":0,"b":0},{"l":12,"y":30,"a":-1,"b":1.15},{"l":12,"y":25,"a":-2.2,"b":2.25},{"l":12,"y":20,"a":-2.65,"b":2.85},{"l":12,"y":15,"a":-2.55,"b":3.35},{"l":12,"y":12.5,"a":-2.4,"b":3.25},{"l":12,"y":10,"a":-2.05,"b":2.9},{"l":12,"y":8,"a":-1.55,"b":2.4},{"l":12,"y":6,"a":-1.35,"b":1.98},
{"l":13,"y":32.6,"a":0,"b":0},{"l":13,"y":30,"a":-0.8,"b":0.9},{"l":13,"y":25,"a":-2.1,"b":2.2},{"l":13,"y":20,"a":-2.62,"b":2.8},{"l":13,"y":15,"a":-2.52,"b":3.27},{"l":13,"y":12.5,"a":-2.35,"b":3.2},{"l":13,"y":10,"a":-1.95,"b":2.87},{"l":13,"y":8,"a":-1.52,"b":2.3},{"l":13,"y":6,"a":-1.32,"b":1.96},
{"l":14,"y":31.7,"a":0,"b":0},{"l":14,"y":30,"a":-0.45,"b":0.6},{"l":14,"y":25,"a":-2,"b":2.15},{"l":14,"y":20,"a":-2.6,"b":2.75},{"l":14,"y":15,"a":-2.5,"b":3.2},{"l":14,"y":12.5,"a":-2.3,"b":3.15},{"l":14,"y":10,"a":-1.9,"b":2.85},{"l":14,"y":8,"a":-1.5,"b":2.25},{"l":14,"y":6,"a":-1.3,"b":1.95},
{"l":16,"y":30,"a":-0.1,"b":0.1},{"l":16,"y":29.2,"a":-0.9,"b":1},{"l":16,"y":25,"a":-1.75,"b":1.95},{"l":16,"y":20,"a":-2.4,"b":2.55},{"l":16,"y":15,"a":-2.35,"b":3.05},{"l":16,"y":12.5,"a":-2.2,"b":3},{"l":16,"y":10,"a":-1.8,"b":2.75},{"l":16,"y":8,"a":-1.45,"b":2.2},{"l":16,"y":6,"a":-1.25,"b":1.92},
{"l":18,"y":29.2,"a":0,"b":0},{"l":18,"y":28.5,"a":-0.65,"b":0.8},{"l":18,"y":25,"a":-1.55,"b":1.75},{"l":18,"y":20,"a":-2.25,"b":2.35},{"l":18,"y":15,"a":-2.2,"b":2.95},{"l":18,"y":12.5,"a":-2.1,"b":2.9},{"l":18,"y":10,"a":-1.75,"b":2.7},{"l":18,"y":8,"a":-1.4,"b":2.15},{"l":18,"y":6,"a":-1.2,"b":1.9},
{"l":20,"y":28.6,"a":0,"b":0},{"l":20,"y":25,"a":-1.4,"b":1.55},{"l":20,"y":20,"a":-2.15,"b":2.25},{"l":20,"y":15,"a":-2.15,"b":2.85},{"l":20,"y":12.5,"a":-2,"b":2.8},{"l":20,"y":10,"a":-1.7,"b":2.65},{"l":20,"y":8,"a":-1.35,"b":2.1},{"l":20,"y":6,"a":-1.2,"b":1.87},
{"l":22,"y":28.2,"a":0,"b":0},{"l":22,"y":25,"a":-1.2,"b":1.4},{"l":22,"y":20,"a":-2.05,"b":2.15},{"l":22,"y":15,"a":-2.1,"b":2.75},{"l":22,"y":12.5,"a":-1.9,"b":2.7},{"l":22,"y":10,"a":-1.65,"b":2.6},{"l":22,"y":8,"a":-1.32,"b":2.05},{"l":22,"y":6,"a":-1.17,"b":1.85},
{"l":24,"y":27.9,"a":0,"b":0},{"l":24,"y":25,"a":-1.05,"b":1.25},{"l":24,"y":20,"a":-2,"b":2.1},{"l":24,"y":15,"a":-2,"b":2.65},{"l":24,"y":12.5,"a":-1.75,"b":2.6},{"l":24,"y":10,"a":-1.6,"b":2.5},{"l":24,"y":8,"a":-1.3,"b":1.95},{"l":24,"y":6,"a":-1.15,"b":1.8},
{"l":27,"y":27.4,"a":0,"b":0},{"l":27,"y":25,"a":-0.9,"b":1.1},{"l":27,"y":20,"a":-1.85,"b":1.95},{"l":27,"y":15,"a":-1.85,"b":2.55},{"l":27,"y":12.5,"a":-1.6,"b":2.45},{"l":27,"y":10,"a":-1.5,"b":2.4},{"l":27,"y":8,"a":-1.2,"b":1.9},{"l":27,"y":6,"a":-1.1,"b":1.77},
{"l":30,"y":26.7,"a":0,"b":0},{"l":30,"y":25,"a":-0.75,"b":0.95},{"l":30,"y":20,"a":-1.7,"b":1.8},{"l":30,"y":15,"a":-1.7,"b":2.45},{"l":30,"y":12.5,"a":-1.5,"b":2.25},{"l":30,"y":10,"a":-1.4,"b":2.3},{"l":30,"y":8,"a":-1.15,"b":1.85},{"l":30,"y":6,"a":-1.05,"b":1.72},
{"l":36,"y":26.3,"a":0,"b":0},{"l":36,"y":25,"a":-0.65,"b":0.8},{"l":36,"y":20,"a":-1.65,"b":1.7},{"l":36,"y":15,"a":-1.65,"b":2.4},{"l":36,"y":12.5,"a":-1.45,"b":2.15},{"l":36,"y":10,"a":-1.3,"b":2.25},{"l":36,"y":8,"a":-1.1,"b":1.8},{"l":36,"y":6,"a":-1,"b":1.7},
{"l":40,"y":23.3,"a":0,"b":0},{"l":40,"y":20,"a":-1.05,"b":1.15},{"l":40,"y":15,"a":-1.1,"b":1.85},{"l":40,"y":12.5,"a":-1,"b":2.05},{"l":40,"y":10,"a":-1.05,"b":1.7},{"l":40,"y":8,"a":-0.95,"b":1.6},{"l":40,"y":6,"a":-0.9,"b":1.55},
{"l":44,"y":22,"a":0,"b":0},{"l":44,"y":20,"a":-0.95,"b":1.1},{"l":44,"y":15,"a":-1.05,"b":1.8},{"l":44,"y":12.5,"a":-0.95,"b":2},{"l":44,"y":10,"a":-1,"b":1.65},{"l":44,"y":8,"a":-0.92,"b":1.57},{"l":44,"y":6,"a":-0.87,"b":1.52},
{"l":48,"y":20.6,"a":0,"b":0},{"l":48,"y":20,"a":-0.85,"b":1},{"l":48,"y":15,"a":-1,"b":1.75},{"l":48,"y":12.5,"a":-0.95,"b":1.95},{"l":48,"y":10,"a":-0.95,"b":1.65},{"l":48,"y":8,"a":-0.9,"b":1.55},{"l":48,"y":6,"a":-0.85,"b":1.5}]
},
"hconcat":[
{"width":208.3,"height":592.7,"title":{"text":"Droplet diameter / µm","anchor":"middle","dx":1,"offset":-2},
"encoding":{"x":{"field":"a","type":"quantitative","stack":null,"scale":{"domain":[-7,7],"nice":false,"zero":false},"axis":{"title":"Radial position / mm","values":[-7,-6,-5,-4,-3,-2,-1,0,1,2,3,4,5,6,7],"labelExpr":"datum.value%2==0?replace(datum.label,'-','−'):''","tickSize":{"condition":{"test":"datum.value%2==0","value":8},"value":5},"labelPadding":8,"titlePadding":5}},"y":{"field":"y","type":"quantitative","scale":{"domain":[0,40],"nice":false,"zero":false},"axis":{"title":"HAB / mm","titleFontSize":20,"titleY":299,"values":[0,2.5,5,7.5,10,12.5,15,17.5,20,22.5,25,27.5,30,32.5,35,37.5,40],"labelExpr":"datum.value%5==0?datum.label:''","tickSize":{"condition":{"test":"datum.value%5==0","value":8},"value":5},"labelPadding":6,"titlePadding":8}}},
"layer":[{"data":{"name":"p1"},"mark":{"type":"area","orient":"horizontal"},"encoding":{"x2":{"field":"b"},"color":{"field":"l","type":"ordinal","legend":null}}},{"data":{"name":"dots"},"mark":{"type":"point","filled":true,"color":"#000000","size":9,"opacity":1}}]},
{"width":8.3,"height":592.7,"view":{"stroke":null},"data":{"name":"levels"},"mark":{"type":"point","opacity":0},"encoding":{}},
{"width":18.5,"height":592.7,"data":{"name":"levels"},"mark":"rect","encoding":{"y":{"field":"lo","type":"quantitative","scale":{"domain":[0,50],"nice":false,"zero":false},"axis":{"orient":"right","title":null,"labelFontSize":17,"values":[1,7,13,19,25,31,37,43,49],"labelExpr":"['11','12','13','14','15','17','18','19','20'][(datum.value-1)/6]","tickSize":5,"labelPadding":4}},"y2":{"datum":50},"color":{"field":"l","type":"ordinal","legend":null,"scale":{"range":["#000000","#660066","#770077","#880088","#8800aa","#7700cc","#6600ee","#3300ff","#0000ff","#0044ff","#0077ff","#0099ff","#00bbff","#00ddff","#00ffdd","#00ff88","#00ff22","#22ff00","#44ff00","#66ff00","#88ff00","#aaff00","#ccff00","#eeff00","#ffff00","#ffee00","#ffcc00","#ffaa00","#ff9900","#ff7700","#ff6600","#ff4400","#ff1100","#ff0000","#ff0000","#ff0000","#ff0000","#ff0000","#ff0000","#ff0000","#ee0000","#dd0000","#cc0000","#bb0000","#aa0000","#990000","#880000","#770000","#660000","#550000"]}}}},
{"width":35.7,"height":592.7,"view":{"stroke":null},"data":{"name":"levels"},"mark":{"type":"point","opacity":0},"encoding":{}},
{"width":206.7,"height":592.7,"title":{"text":"Axial droplet velocity / m/s","anchor":"middle","dx":8,"offset":6},
"encoding":{"x":{"field":"a","type":"quantitative","stack":null,"scale":{"domain":[-7,7],"nice":false,"zero":false},"axis":{"title":"Radial position / mm","values":[-7,-6,-5,-4,-3,-2,-1,0,1,2,3,4,5,6,7],"labelExpr":"datum.value%2==0?replace(datum.label,'-','−'):''","tickSize":{"condition":{"test":"datum.value%2==0","value":8},"value":5},"labelPadding":8,"titlePadding":5}},"y":{"field":"y","type":"quantitative","scale":{"domain":[0,40],"nice":false,"zero":false},"axis":{"title":null,"labels":false,"values":[0,2.5,5,7.5,10,12.5,15,17.5,20,22.5,25,27.5,30,32.5,35,37.5,40],"tickSize":{"condition":{"test":"datum.value%5==0","value":-8},"value":-5}}}},
"layer":[{"data":{"name":"p2"},"mark":{"type":"area","orient":"horizontal"},"encoding":{"x2":{"field":"b"},"color":{"field":"l","type":"ordinal","legend":null}}},{"data":{"name":"dots"},"mark":{"type":"point","filled":true,"color":"#000000","size":9,"opacity":1}}]},
{"width":8.7,"height":592.7,"view":{"stroke":null},"data":{"name":"levels"},"mark":{"type":"point","opacity":0},"encoding":{}},
{"width":18.5,"height":592.7,"data":{"name":"levels"},"mark":"rect","encoding":{"y":{"field":"lo","type":"quantitative","scale":{"domain":[0,50],"nice":false,"zero":false},"axis":{"orient":"right","title":null,"labelFontSize":17,"values":[1,7,13,19,25,31,37,43,49],"labelExpr":"['0','16','32','48','65','81','97','113','129'][(datum.value-1)/6]","tickSize":5,"labelPadding":4}},"y2":{"datum":50},"color":{"field":"l","type":"ordinal","legend":null}}},
{"width":50.1,"height":592.7,"view":{"stroke":null},"data":{"name":"levels"},"mark":{"type":"point","opacity":0},"encoding":{}},
{"width":207.3,"height":592.7,"title":{"text":"Radial droplet velocity / m/s","anchor":"middle","dx":28,"offset":6},
"encoding":{"x":{"field":"a","type":"quantitative","stack":null,"scale":{"domain":[-7,7],"nice":false,"zero":false},"axis":{"title":"Radial position / mm","values":[-7,-6,-5,-4,-3,-2,-1,0,1,2,3,4,5,6,7],"labelExpr":"datum.value%2==0?replace(datum.label,'-','−'):''","tickSize":{"condition":{"test":"datum.value%2==0","value":8},"value":5},"labelPadding":8,"titlePadding":5}},"y":{"field":"y","type":"quantitative","scale":{"domain":[0,40],"nice":false,"zero":false},"axis":{"title":null,"labels":false,"values":[0,2.5,5,7.5,10,12.5,15,17.5,20,22.5,25,27.5,30,32.5,35,37.5,40],"tickSize":{"condition":{"test":"datum.value%5==0","value":-8},"value":-5}}}},
"layer":[{"data":{"name":"p3"},"mark":{"type":"area","orient":"horizontal"},"encoding":{"x2":{"field":"b"},"color":{"field":"l","type":"ordinal","legend":null}}},{"data":{"name":"dots"},"mark":{"type":"point","filled":true,"color":"#000000","size":9,"opacity":1}}]},
{"width":7.7,"height":592.7,"view":{"stroke":null},"data":{"name":"levels"},"mark":{"type":"point","opacity":0},"encoding":{}},
{"width":18.5,"height":592.7,"data":{"name":"levels"},"mark":"rect","encoding":{"y":{"field":"lo","type":"quantitative","scale":{"domain":[0,50],"nice":false,"zero":false},"axis":{"orient":"right","title":null,"labelFontSize":17,"values":[1,7,13,19,25,31,37,43,49],"labelExpr":"['−13.3','−10.5','−7.7','−4.9','−2.2','0.6','3.4','6.2','9.0'][(datum.value-1)/6]","tickSize":5,"labelPadding":4}},"y2":{"datum":50},"color":{"field":"l","type":"ordinal","legend":null}}},
{"width":65.4,"height":592.7,"view":{"stroke":null},"data":{"name":"levels"},"mark":{"type":"point","opacity":0},"encoding":{}},
{"width":206.6,"height":592.7,"title":{"text":"Droplet count / 10³","anchor":"middle","dx":-5,"offset":6},
"encoding":{"x":{"field":"a","type":"quantitative","stack":null,"scale":{"domain":[-7,7],"nice":false,"zero":false},"axis":{"title":"Radial position / mm","values":[-7,-6,-5,-4,-3,-2,-1,0,1,2,3,4,5,6,7],"labelExpr":"datum.value%2==0?replace(datum.label,'-','−'):''","tickSize":{"condition":{"test":"datum.value%2==0","value":8},"value":5},"labelPadding":8,"titlePadding":5}},"y":{"field":"y","type":"quantitative","scale":{"domain":[0,40],"nice":false,"zero":false},"axis":{"title":null,"labels":false,"values":[0,2.5,5,7.5,10,12.5,15,17.5,20,22.5,25,27.5,30,32.5,35,37.5,40],"tickSize":{"condition":{"test":"datum.value%5==0","value":-8},"value":-5}}}},
"layer":[{"data":{"name":"p4"},"mark":{"type":"area","orient":"horizontal"},"encoding":{"x2":{"field":"b"},"color":{"field":"l","type":"ordinal","legend":null}}},{"data":{"name":"dots"},"mark":{"type":"point","filled":true,"color":"#000000","size":9,"opacity":1}}]},
{"width":10.7,"height":592.7,"view":{"stroke":null},"data":{"name":"levels"},"mark":{"type":"point","opacity":0},"encoding":{}},
{"width":18.5,"height":592.7,"data":{"name":"levels"},"mark":"rect","encoding":{"y":{"field":"lo","type":"quantitative","scale":{"domain":[0,50],"nice":false,"zero":false},"axis":{"orient":"right","title":null,"labelFontSize":17,"values":[1,7,13,19,25,31,37,43,49],"labelExpr":"['0','25','50','75','100','125','150','175','200'][(datum.value-1)/6]","tickSize":5,"labelPadding":4}},"y2":{"datum":50},"color":{"field":"l","type":"ordinal","legend":null}}}
]}
